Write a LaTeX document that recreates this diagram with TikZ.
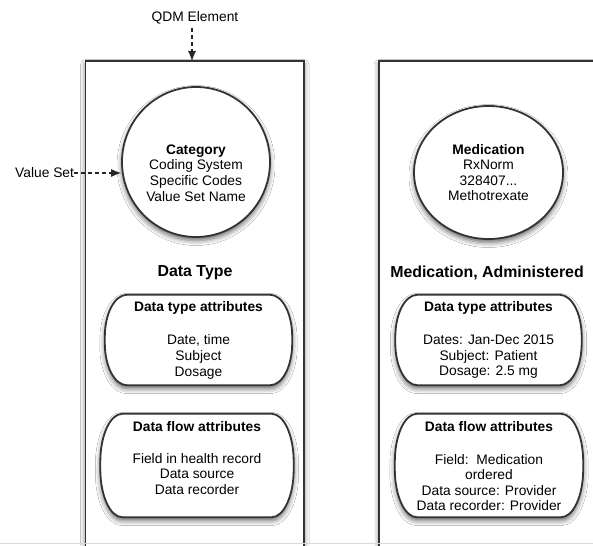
\documentclass[tikz,border=0pt]{standalone}
\usepackage{fontspec}
\setmainfont{Liberation Sans}
\usetikzlibrary{shapes.geometric,arrows.meta,shadows.blur,calc}

\tikzset{
  outline/.style={draw=black!80, line width=1.8pt},
  sh/.style={blur shadow={shadow xshift=0pt, shadow yshift=-3.5pt, shadow blur radius=5pt, shadow opacity=60}},
  txt/.style={font=\fontsize{13.8}{15.6}\selectfont, align=center, inner sep=0pt},
  ttl/.style={font=\fontsize{13.8}{15.6}\selectfont\bfseries, inner sep=0pt},
  big/.style={font=\fontsize{15.9}{18}\selectfont\bfseries, inner sep=0pt},
  dasharrow/.style={draw=black!85, line width=1.1pt, dash pattern=on 4pt off 3pt, -{Latex[length=10pt,width=8pt]}},
  holder/.style={draw=none, inner sep=0pt},
}

% #1 node name, #2 horizontal corner radius, #3 vertical corner radius
\newcommand\softbox[3]{%
  \path[sh, fill=white, outline]
    ($(#1.north west)+(#2,0)$) -- ($(#1.north east)+(-#2,0)$)
    arc[start angle=90,end angle=0,x radius=#2pt,y radius=#3pt]
    -- ($(#1.south east)+(0,-#3)$)
    arc[start angle=0,end angle=-90,x radius=#2pt,y radius=#3pt]
    -- ($(#1.south west)+(#2,0)$)
    arc[start angle=270,end angle=180,x radius=#2pt,y radius=#3pt]
    -- ($(#1.north west)+(0,#3)$)
    arc[start angle=180,end angle=90,x radius=#2pt,y radius=#3pt]
    -- cycle;}

\begin{document}
\begin{tikzpicture}[x=1pt,y=-1pt]
\clip (0,0) rectangle (593,545);
\fill[white] (0,0) rectangle (593,545);

% big frames
\path[sh, fill=white] (85.5,61) rectangle (304,580);
\draw[outline] (85.5,580) -- (85.5,61) -- (304,61) -- (304,580);
\path[sh, fill=white] (379,61) rectangle (620,580);
\draw[outline] (379,580) -- (379,61) -- (620,61);
\draw[black!15, line width=0.8pt] (0,543.5) -- (593,543.5);

% ellipses
\node[ellipse, sh, fill=white, outline, minimum width=148pt, minimum height=150pt, inner sep=0pt] (cat) at (196,162) {};
\node[txt] (catt) at (196,173) {\textbf{Category}\\Coding System\\Specific Codes\\Value Set Name};
\node[ellipse, sh, fill=white, outline, minimum width=149pt, minimum height=133pt, inner sep=0pt] (med) at (488.5,172.5) {};
\node[txt] (medt) at (488.5,172.5) {\textbf{Medication}\\RxNorm\\328407...\\Methotrexate};

% headings
\node[big] (dt) at (195,273) {Data Type};
\node[big] (ma) at (487,273) {Medication, Administered};

% attribute boxes
\node[holder, minimum width=187pt, minimum height=90pt] (dtaL) at (198.5,340) {};
\softbox{dtaL}{22}{42}
\node[ttl] (dtaLt) at (198.5,308) {Data type attributes};
\node[txt] (dtaLb) at (198.5,357) {Date, time\\Subject\\Dosage};

\node[holder, minimum width=193pt, minimum height=103pt] (dfaL) at (197,465.5) {};
\softbox{dfaL}{22}{48}
\node[ttl] (dfaLt) at (197,427) {Data flow attributes};
\node[txt] (dfaLb) at (197,474) {Field in health record\\Data source\\Data recorder};

\node[holder, minimum width=186pt, minimum height=90pt] (dtaR) at (488.5,340) {};
\softbox{dtaR}{22}{42}
\node[ttl] (dtaRt) at (488.5,308) {Data type attributes};
\node[txt] (dtaRb) at (488.5,357) {Dates: Jan-Dec 2015\\Subject: Patient\\Dosage: 2.5 mg};

\node[holder, minimum width=188pt, minimum height=103pt] (dfaR) at (489,465.5) {};
\softbox{dfaR}{22}{48}
\node[ttl] (dfaRt) at (489,427) {Data flow attributes};
\node[txt] (dfaRb) at (489,482.5) {Field:\ \ Medication\\ordered\\Data source: Provider\\Data recorder: Provider};

% external labels and arrows
\node[txt] (qdm) at (195,18) {QDM Element};
\coordinate (qdmtip) at (192,61);
\draw[dasharrow, shorten <=3pt] (qdmtip |- qdm.south) -- (qdmtip);

\node[txt, anchor=west] (vs) at (15,173) {Value Set};
\draw[dasharrow] (vs.east) -- (cat.west |- vs.east);
\end{tikzpicture}
\end{document}
